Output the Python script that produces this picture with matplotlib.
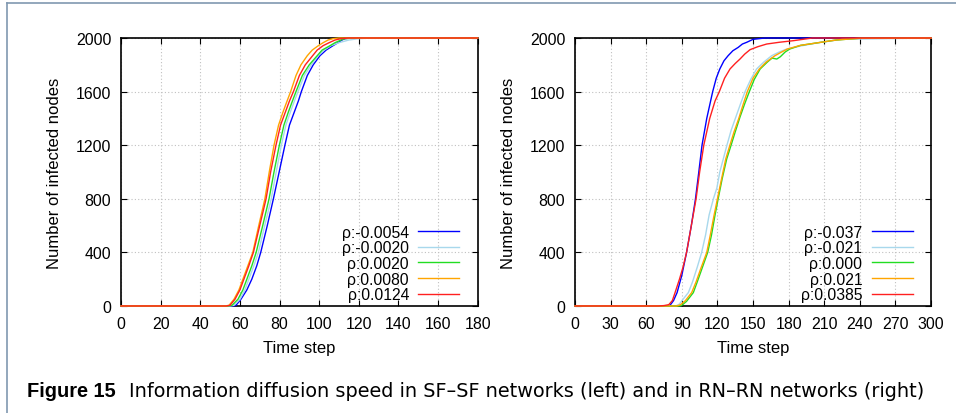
import matplotlib
matplotlib.use("Agg")
import matplotlib.pyplot as plt
from matplotlib.lines import Line2D

plt.rcParams['font.family'] = ['Liberation Sans', 'DejaVu Sans']

# ---------------- data ----------------
# left panel: SF-SF networks (time step, infected nodes)
sf_labels = ['ρ:-0.0054', 'ρ:-0.0020', 'ρ:0.0020', 'ρ:0.0080', 'ρ:0.0124']
sf_colors = ['#0000ff', '#a8d8ec', '#22dd22', '#ffa500', '#ff2020']
sf_levels = [0, 0, 5, 50, 120, 200, 300, 400, 600, 800, 1000, 1200, 1350, 1450,
             1530, 1600, 1720, 1800, 1868, 1910, 1943, 1965, 1985, 1995, 2000, 2000]
sf_t_blue = [0, 56, 58, 60.5, 63.5, 66, 68.5, 70.5, 73.8, 76.9, 79.8, 82.7, 85, 87.5,
             89.5, 91, 94, 97, 100.4, 103.5, 107, 109.5, 111.5, 113, 116, 180]
sf_t_lblue = [0, 55, 57, 60, 62.5, 64.5, 67, 69.3, 72.5, 75.8, 78.3, 80.9, 83.2, 85.5,
              87.5, 89.3, 92.5, 96, 99.5, 102.5, 106, 110, 115, 120, 126, 180]
sf_t_green = [0, 54, 56, 59, 61.5, 63.5, 66, 68.2, 71.5, 74.7, 77.2, 79.9, 82.2, 84.5,
              86.5, 88.3, 91.5, 95, 99, 101.5, 105.5, 108, 111, 113, 117, 180]
sf_t_orange = [0, 52.5, 54.5, 57, 59.5, 61.5, 64, 66.5, 69.5, 72.6, 74.8, 77.2, 79.5, 81.8,
               83.8, 85.6, 88.3, 90.8, 94, 96.5, 99.6, 102, 104.5, 107, 110, 180]
sf_t_red = [0, 53, 55, 57.5, 60, 62, 64.5, 66.8, 70, 73.2, 75.5, 78.2, 80.5, 83,
            85, 87, 90, 93, 96.7, 99, 102, 105, 108, 111, 115, 180]

# right panel: RN-RN networks
rn_labels = ['ρ:-0.037', 'ρ:-0.021', 'ρ:0.000', 'ρ:0.021', 'ρ:0.0385']
rn_colors = sf_colors
rn_t_blue = [0, 78, 80, 83, 86, 90, 94, 98, 101.5, 104.3, 107, 111, 116, 119, 122,
             125.5, 129, 133, 137.5, 141, 144.7, 150, 160, 300]
rn_v_blue = [0, 0, 5, 40, 100, 230, 400, 600, 800, 1000, 1200, 1400, 1600, 1700, 1769,
             1830, 1868, 1905, 1930, 1955, 1968, 1990, 2000, 2000]
rn_t_lblue = [0, 85, 88, 91, 95.5, 99, 103, 106.7, 110, 113, 116.6, 119.5, 122, 125,
              128, 131.5, 135.5, 139.5, 143.3, 148, 153, 159, 165.7, 172, 178.4, 190,
              205, 225, 300]
rn_v_lblue = [0, 0, 15, 50, 100, 180, 290, 400, 530, 680, 800, 880, 1000, 1100,
              1200, 1310, 1410, 1510, 1600, 1690, 1769, 1820, 1868, 1895, 1918, 1940,
              1965, 1990, 2000]
rn_t_green = [0, 88, 90, 94, 99.7, 103, 107, 111.8, 115, 118, 120.6, 124, 127.8, 131.5,
              135, 139, 143, 146.9, 151, 156, 162, 166, 170, 173, 177, 181, 190, 205,
              220, 240, 300]
rn_v_green = [0, 0, 5, 35, 100, 180, 280, 400, 530, 680, 800, 950, 1097, 1200,
              1300, 1410, 1510, 1600, 1690, 1769, 1820, 1850, 1843, 1860, 1895, 1918,
              1945, 1965, 1985, 1998, 2000]
rn_t_orange = [0, 86, 89, 93, 98.3, 102, 106, 111, 114, 117, 120, 123.5, 127, 130.5,
               134, 138, 141.5, 145.2, 150, 155.3, 161, 168.5, 174, 179, 190, 205, 220,
               240, 300]
rn_v_orange = [0, 0, 10, 40, 100, 180, 280, 400, 530, 670, 800, 950, 1097, 1200,
               1300, 1400, 1500, 1600, 1700, 1769, 1820, 1868, 1895, 1918, 1945, 1965,
               1985, 1998, 2000]
rn_t_red = [0, 70, 75, 79, 82, 84.3, 88, 91, 94, 98, 102, 105, 108.5, 113.5, 118,
            121.6, 126, 130.6, 135, 139, 143, 147.5, 154, 161.5, 172, 184, 200, 300]
rn_v_red = [0, 0, 3, 10, 40, 100, 200, 290, 400, 600, 800, 1000, 1200, 1400, 1530,
            1600, 1700, 1769, 1810, 1843, 1880, 1913, 1935, 1955, 1968, 1980, 2000, 2000]

y_ticks = [0, 400, 800, 1200, 1600, 2000]
sf_x_ticks = list(range(0, 181, 20))
rn_x_ticks = list(range(0, 301, 30))

# ---------------- figure ----------------
fig = plt.figure(figsize=(9.56, 4.14), dpi=100)
ax1 = fig.add_axes([0.1266, 0.2585, 0.3731, 0.6473])
ax2 = fig.add_axes([0.6015, 0.2585, 0.3724, 0.6473])

sf_series = [sf_t_blue, sf_t_lblue, sf_t_green, sf_t_orange, sf_t_red]
for t, c, lab in zip(sf_series, sf_colors, sf_labels):
    ax1.plot(t, sf_levels, color=c, lw=1.0, label=lab, clip_on=False, zorder=3)

rn_series = [(rn_t_blue, rn_v_blue), (rn_t_lblue, rn_v_lblue), (rn_t_green, rn_v_green),
             (rn_t_orange, rn_v_orange), (rn_t_red, rn_v_red)]
for (t, v), c, lab in zip(rn_series, rn_colors, rn_labels):
    ax2.plot(t, v, color=c, lw=1.0, label=lab, clip_on=False, zorder=3)

for ax, xmax, xt in [(ax1, 180, sf_x_ticks), (ax2, 300, rn_x_ticks)]:
    ax.set_xlim(0, xmax)
    ax.set_ylim(0, 2000)
    ax.set_xticks(xt)
    ax.set_yticks(y_ticks)
    ax.tick_params(direction='in', length=4.5, width=0.8, top=True, right=True,
                   labelsize=11.4, pad=7, colors='black')
    ax.grid(True, linestyle=(0, (1, 2)), color='#c0c0c0', lw=0.8)
    for sp in ax.spines.values():
        sp.set_linewidth(1.2)
    ax.set_xlabel('Time step', fontsize=12, labelpad=7)
    ax.set_ylabel('Number of infected nodes', fontsize=12, labelpad=10)
    ax.legend(loc='lower right', markerfirst=False, frameon=False, fontsize=11.3,
              handlelength=2.6, handletextpad=0.6, labelspacing=0.04,
              borderaxespad=0.3, bbox_to_anchor=(0.979, -0.027))

# page frame lines
fig.add_artist(Line2D([7 / 956, 7 / 956], [0, 1 - 4 / 414], color='#8098b0', lw=1.2))
fig.add_artist(Line2D([7 / 956, 1], [1 - 4 / 414, 1 - 4 / 414], color='#8098b0', lw=1.2))

# caption
fig.text(27 / 956, 1 - 397 / 414, 'Figure 15', fontsize=14.4, fontweight='bold',
         va='baseline')
fig.text(129 / 956, 1 - 397 / 414,
         'Information diffusion speed in SF\u2013SF networks (left) and in RN\u2013RN networks (right)',
         fontsize=13.9, family='DejaVu Sans', va='baseline')

fig.savefig('out.png', dpi=100)
